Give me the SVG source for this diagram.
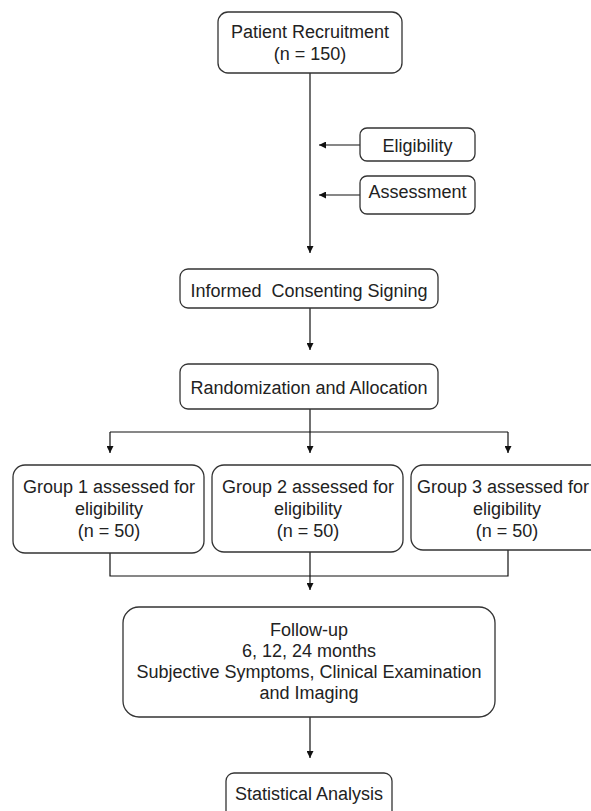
<svg xmlns="http://www.w3.org/2000/svg" width="591" height="811" viewBox="0 0 591 811">
<style>
.box{fill:#fff;stroke:#333;stroke-width:1.3}
.t{font-family:"Liberation Sans",Arial,sans-serif;font-size:18px;fill:#222;text-anchor:middle}
.c{fill:none;stroke:#111;stroke-width:1.2}
</style>
<defs>
<marker id="ah" viewBox="0 0 8 8" refX="8" refY="4" markerWidth="7" markerHeight="7" markerUnits="userSpaceOnUse" orient="auto">
<path d="M0,0 L8,4 L0,8 Z" fill="#111"/>
</marker>
</defs>
<rect width="591" height="811" fill="#fff"/>
<g id="connectors">
<path class="c" d="M310,73 V253" marker-end="url(#ah)"/>
<path class="c" d="M360,145 H319" marker-end="url(#ah)"/>
<path class="c" d="M360,195 H319" marker-end="url(#ah)"/>
<path class="c" d="M310,308 V350" marker-end="url(#ah)"/>
<path class="c" d="M310,409 V432"/>
<path class="c" d="M110,432 H508"/>
<path class="c" d="M110,432 V453" marker-end="url(#ah)"/>
<path class="c" d="M310,432 V453" marker-end="url(#ah)"/>
<path class="c" d="M508,432 V453" marker-end="url(#ah)"/>
<path class="c" d="M110,553 V576 H508 V550"/>
<path class="c" d="M310,552 V590" marker-end="url(#ah)"/>
<path class="c" d="M310,717 V758" marker-end="url(#ah)"/>
</g>
<g id="recruitment">
<rect class="box" x="218" y="12" width="184" height="61" rx="10"/>
<text class="t" x="310" y="38">Patient Recruitment</text>
<text class="t" x="310" y="60">(n = 150)</text>
</g>
<g id="eligibility">
<rect class="box" x="360" y="128" width="115" height="33" rx="7"/>
<text class="t" x="417.5" y="152">Eligibility</text>
</g>
<g id="assessment">
<rect class="box" x="360" y="176" width="115" height="38" rx="7"/>
<text class="t" x="417.5" y="198">Assessment</text>
</g>
<g id="consent">
<rect class="box" x="180" y="269" width="258" height="39" rx="8"/>
<text class="t" x="309" y="297" xml:space="preserve">Informed  Consenting Signing</text>
</g>
<g id="randomization">
<rect class="box" x="180" y="364" width="258" height="45" rx="8"/>
<text class="t" x="309" y="394">Randomization and Allocation</text>
</g>
<g id="group1">
<rect class="box" x="13" y="465" width="191" height="88" rx="12"/>
<text class="t" x="109" y="493">Group 1 assessed for</text>
<text class="t" x="109" y="515">eligibility</text>
<text class="t" x="109" y="537">(n = 50)</text>
</g>
<g id="group2">
<rect class="box" x="212" y="465" width="191" height="87" rx="12"/>
<text class="t" x="308" y="493">Group 2 assessed for</text>
<text class="t" x="308" y="515">eligibility</text>
<text class="t" x="308" y="537">(n = 50)</text>
</g>
<g id="group3">
<rect class="box" x="411" y="465" width="192" height="85" rx="12"/>
<text class="t" x="503" y="493">Group 3 assessed for</text>
<text class="t" x="507" y="515">eligibility</text>
<text class="t" x="507" y="537">(n = 50)</text>
</g>
<g id="followup">
<rect class="box" x="123" y="607" width="372" height="110" rx="16"/>
<text class="t" x="309" y="636">Follow-up</text>
<text class="t" x="309" y="657">6, 12, 24 months</text>
<text class="t" x="309" y="678">Subjective Symptoms, Clinical Examination</text>
<text class="t" x="309" y="699">and Imaging</text>
</g>
<g id="statistics">
<rect class="box" x="226" y="773" width="166" height="50" rx="8"/>
<text class="t" x="309" y="800">Statistical Analysis</text>
</g>
</svg>
